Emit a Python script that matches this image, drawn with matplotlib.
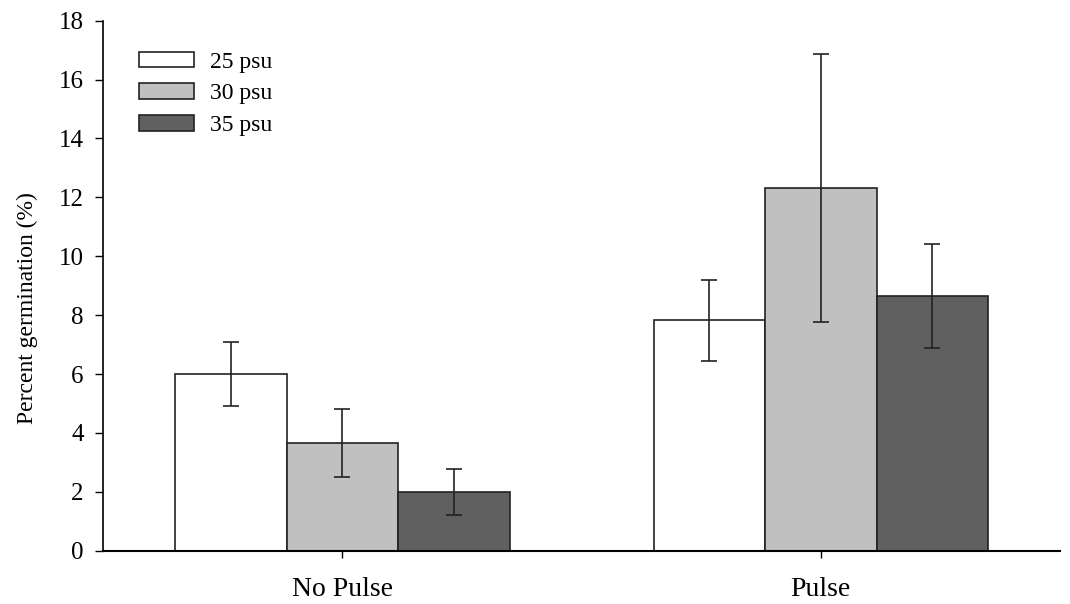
import matplotlib.pyplot as plt
import numpy as np

plt.rcParams['font.family'] = ['Liberation Serif', 'DejaVu Serif']

groups = ['No Pulse', 'Pulse']
salinity = ['25 psu', '30 psu', '35 psu']
means_25 = [6.0, 7.83]
means_30 = [3.65, 12.33]
means_35 = [2.0, 8.65]
err_25 = [1.08, 1.37]
err_30 = [1.15, 4.55]
err_35 = [0.77, 1.77]

colors = ['white', '#c0c0c0', '#606060']

fig = plt.figure(figsize=(10.7, 6.04), dpi=100)
ax = fig.add_axes([0.0963, 0.0882, 0.8944, 0.8775])

x = np.arange(len(groups))
w = 0.233
for i, (m, e) in enumerate([(means_25, err_25), (means_30, err_30), (means_35, err_35)]):
    ax.bar(x + (i - 1) * w, m, w, color=colors[i], edgecolor='#222222', linewidth=1.2,
           label=salinity[i], zorder=2)
    ax.errorbar(x + (i - 1) * w, m, yerr=e, fmt='none', ecolor='#222222', elinewidth=1.2,
                capsize=6, capthick=1.2, zorder=3)

ax.set_xlim(-0.5, 1.5)
ax.set_ylim(0, 18)
ax.set_yticks(range(0, 19, 2))
ax.set_xticks(x)
ax.set_xticklabels(groups, fontsize=20)
ax.tick_params(axis='y', labelsize=18, length=6, width=1, pad=8)
ax.tick_params(axis='x', length=5, width=1, pad=14)
ax.spines['top'].set_visible(False)
ax.spines['right'].set_visible(False)
ax.spines['left'].set_linewidth(1.2)
ax.spines['bottom'].set_linewidth(1.5)
ax.set_ylabel('Percent germination (%)', fontsize=17)
ax.yaxis.set_label_coords(-0.068, 0.458)

ax.legend(loc='upper left', bbox_to_anchor=(0.0156, 0.982), frameon=False, fontsize=17,
          handlelength=2.3, handleheight=0.64, labelspacing=0.45, handletextpad=0.68)

fig.savefig('out.png', dpi=100)
